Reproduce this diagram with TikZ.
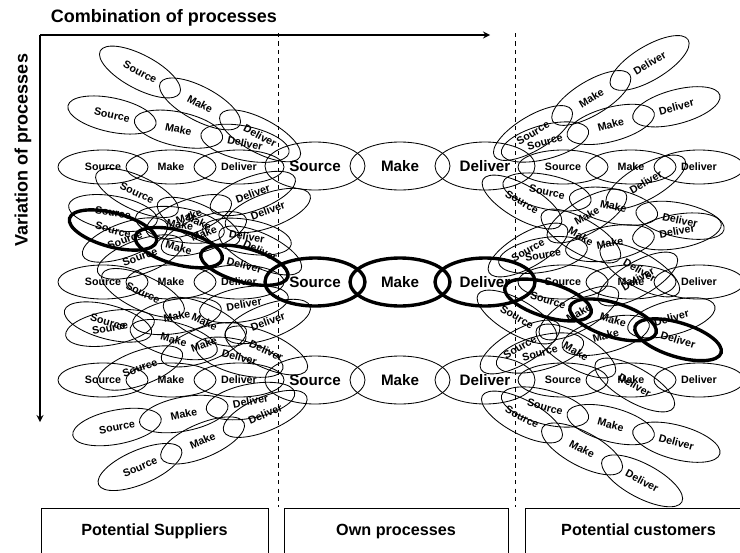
\documentclass[tikz,border=0pt]{standalone}
\usepackage{fontspec}
\setmainfont{Liberation Sans}
\usetikzlibrary{shapes.geometric}

\begin{document}
\begin{tikzpicture}[x=0.025cm,y=-0.025cm,>=stealth,
  proc/.style={draw,ellipse,transform shape,inner sep=0pt,minimum width=2.25cm,minimum height=0.85cm,line width=0.6pt,font=\fontsize{7.6}{8}\selectfont\bfseries},
  heavy/.style={proc,line width=2.4pt},
  bigproc/.style={proc,minimum width=2.5cm,minimum height=1.2cm,font=\fontsize{10.8}{12}\selectfont\bfseries},
  bigheavy/.style={bigproc,line width=2.4pt},
  panel/.style={draw,minimum height=1.2cm,text height=0.75em,text depth=0.25em,line width=0.6pt,font=\fontsize{11.5}{13}\selectfont\bfseries},
  axis/.style={line width=1.2pt},
  every node/.append style={align=center}]
\useasboundingbox (0,0) rectangle (740,552);
\clip (0,0) rectangle (740,552);

% axes
\coordinate (o) at (40,35);
\coordinate (xe) at (490,35);
\coordinate (ye) at (40,422);
\draw[axis,->] (o) -- (xe);
\draw[axis,->] (o) -- (ye);
\node[anchor=west,font=\fontsize{12.8}{14}\selectfont\bfseries] (hlab) at (46,18) {Combination of processes};
\node[rotate=90,font=\fontsize{12.8}{14}\selectfont\bfseries] (vlab) at (23,150) {Variation of processes};

% borders between the three parts
\coordinate (da) at (278,33);
\coordinate (db) at (278,507);
\coordinate (ea) at (515,33);
\coordinate (eb) at (515,507);
\draw[dashed,line width=0.7pt] (da) -- (db);
\draw[dashed,line width=0.7pt] (ea) -- (eb);

% chains: name / source x / source y / slope / spacing / style
\foreach \n/\x/\y/\a/\d/\s in {
  l1/140/72/28/68/proc, l2/112/115/12/68/proc, l3/103/167/0/68/proc,
  l4/137/193/25/68/proc, l5/113/213/10/68/proc, l6/125/240/-20/68/proc,
  l8/140/257/-20/68/proc, l9/103/282/0/68/proc, l10/143/293/25/68/proc,
  l11/108/322/15/68/proc, l12/110/328/-10/68/proc, l13/140/368/-20/68/proc,
  l14/103/380/0/68/proc, l15/117/427/-11/68/proc, l16/140/467/-23/68/proc,
  r1/533/133/-31/68/proc, r2/545/142/-15/68/proc, r3/563/167/0/68/proc,
  r4/547/192/12/68/proc, r5/522/202/30/68/proc, r6/528/250/-30/68/proc,
  r7/543/255/-10/68/proc, r9/563/282/0/68/proc, r10/517/317/30/68/proc,
  r11/520/347/-30/68/proc, r12/540/353/-15/68/proc, r13/563/380/0/68/proc,
  r14/545/407/15/68/proc, r15/522/417/28/68/proc,
  c1/315/166/0/85/bigproc, c3/315/380/0/85/bigproc,
  l7/113/230/15/68/heavy, r8/548/300/17/68/heavy, c2/315/282/0/85/bigheavy}{
  \begin{scope}[shift={(\x,\y)},rotate=-\a]
    \node[\s] (\n-s) at (0,0) {Source};
    \node[\s] (\n-m) at (\d,0) {Make};
    \node[\s] (\n-d) at (2*\d,0) {Deliver};
  \end{scope}
}

% parts
\node[panel,minimum width=5.675cm] (sup) at (154.5,532) {Potential Suppliers};
\node[panel,minimum width=5.6cm] (own) at (396,532) {Own processes};
\node[panel,minimum width=5.675cm] (cust) at (638.5,532) {Potential customers};
\end{tikzpicture}
\end{document}
